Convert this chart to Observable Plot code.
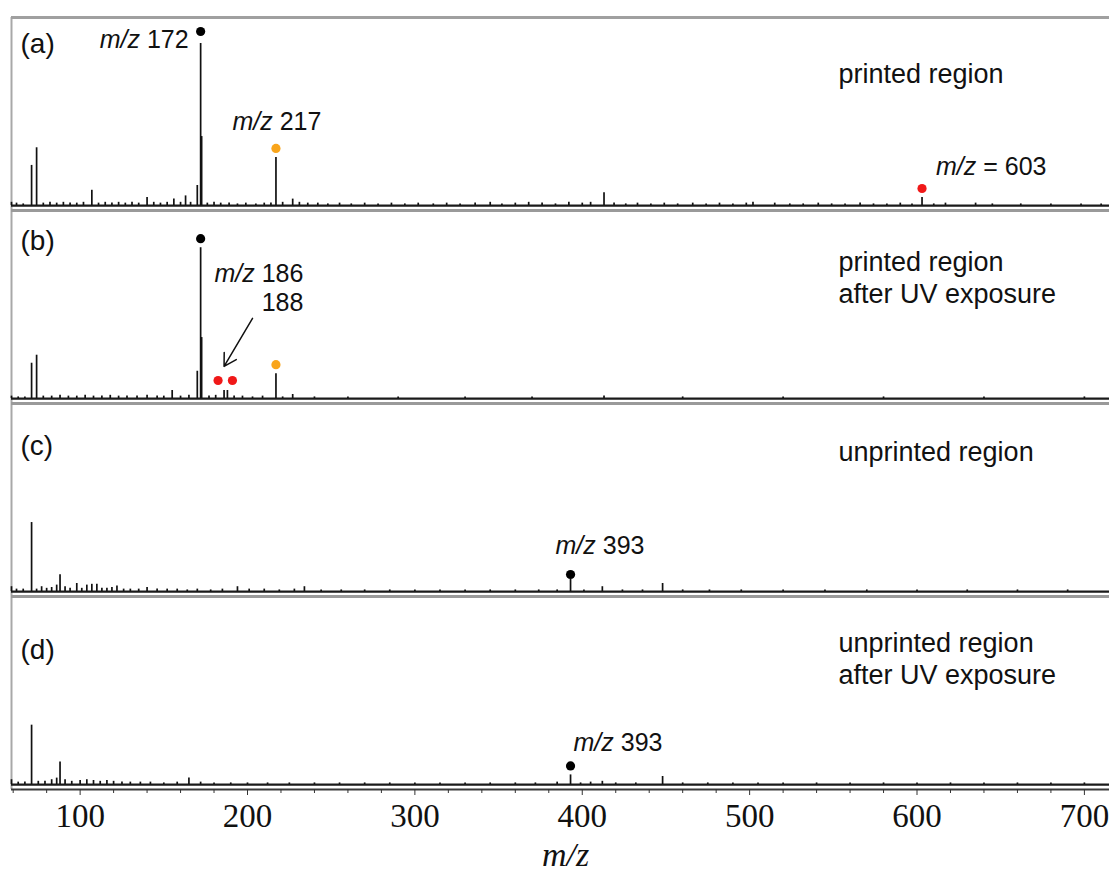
<!DOCTYPE html>
<html><head><meta charset="utf-8">
<script src="https://cdn.jsdelivr.net/npm/d3@7"></script>
<script src="https://cdn.jsdelivr.net/npm/@observablehq/plot@0.6"></script>
<style>
html,body{margin:0;padding:0;background:#fff;}
#chart svg{display:block;background:#fff;}
#chart g[aria-label="x-axis tick label"] text{font-family:"Liberation Serif",serif;font-size:33px;}
</style></head><body><div id="chart"></div>
<script>
// ---- data ----
const panels = ["a", "b", "c", "d"];
const panelLabels = ["(a)", "(b)", "(c)", "(d)"];
const panelDescriptions = ["printed region", "printed region\nafter UV exposure", "unprinted region", "unprinted region\nafter UV exposure"];
const tickValues = [100, 200, 300, 400, 500, 600, 700];
const minorTickValues = [60, 80, 120, 140, 160, 180, 220, 240, 260, 280, 320, 340, 360, 380, 420, 440, 460, 480, 520, 540, 560, 580, 620, 640, 660, 680, 720];
const axisTitle = "m/z";

// [m/z, relative intensity]
const peaksA = [[59,2],[62,1.5],[66,1],[71,25],[74,36],[78,1.5],[82,2],[86,1.5],[90,2],[94,1.5],[98,1.5],[102,2],[107,9.5],[111,1.5],[115,2],[119,1.5],[123,2],[127,1.5],[131,2],[135,1.5],[140,5],[144,2],[148,1.5],[152,2],[156,4],[160,2],[163,6],[166,2],[170,12.5],[172,101],[172.6,43],[176,1.5],[180,2],[184,1.5],[189,1.5],[194,1],[199,1.5],[205,1],[210,1.5],[214,1.5],[217,30],[221,2],[227,4],[231,2],[236,1.5],[242,1.5],[248,1],[255,1.5],[262,1],[270,1.5],[278,1],[286,1.5],[294,1],[302,1.5],[311,1],[319,1.5],[327,1],[336,1.5],[345,2],[352,1],[360,1.5],[368,2],[376,1.5],[384,1],[392,2],[400,1.5],[405,2],[413,8],[419,1.5],[426,1],[433,1.5],[441,1],[449,1.5],[457,1],[466,1.5],[474,1],[482,1.5],[490,1],[498,1.5],[502,2],[515,1.5],[524,1],[532,1],[541,1.5],[549,1],[557,1],[566,1.5],[574,1],[582,1],[590,1.5],[597,1],[603,5],[610,1],[617,1.5],[635,1.5],[645,1],[662,1],[680,1],[698,1],[710,1]];
const peaksB = [[59,1.5],[63,1],[67,1],[71,22],[74,27],[78,1.5],[83,1.5],[88,2],[93,1.5],[98,1.5],[103,2],[108,1.5],[113,1.5],[118,2],[123,1.5],[128,1.5],[134,1.5],[140,2],[146,1.5],[150,1.5],[155,5],[160,1.5],[165,2],[170,17],[172,94],[172.6,38],[177,1.5],[181,2],[186,5],[188,5],[192,1.5],[197,1.5],[203,1],[209,1.5],[217,15.5],[221,1],[227,2.5],[240,1],[260,1],[290,1],[330,1],[370,1],[413,1.5],[460,1],[520,1],[580,1],[640,1],[700,1]];
const peaksC = [[59,3],[62,1.5],[66,1.5],[71,43],[74,1.5],[77,3],[80,2],[83,2.5],[86,4],[88,10.5],[91,3],[94,2],[98,5],[101,2],[104,4],[107,4.5],[110,4.5],[113,2],[116,2],[119,2.5],[122,3.5],[126,1.5],[130,1.5],[135,1.5],[140,2.5],[146,1.5],[152,1.5],[158,1.5],[164,1],[170,1.5],[178,1],[185,1.5],[194,3],[201,1.5],[210,1.5],[219,1],[228,1.5],[234,3],[244,1],[256,1],[270,1],[285,1],[300,1],[315,1],[330,1],[345,1],[360,1],[374,1],[385,1],[393,7.5],[401,1],[412,3],[424,1],[436,1],[448,5],[460,1],[476,1],[495,1],[520,1],[545,1],[570,1],[600,1],[630,1],[660,1],[690,1]];
const peaksD = [[59,3],[63,1.5],[67,1.5],[71,37],[75,2],[79,2],[83,3],[86,4],[88,14],[91,3],[95,2],[100,2.5],[104,3],[108,2.5],[112,2],[116,2.5],[120,2],[125,1.5],[130,1.5],[136,1.5],[142,1.5],[150,1],[158,1.5],[165,4],[172,1.5],[180,1],[190,1],[200,1],[212,1],[225,1],[240,1],[255,1],[270,1],[285,1],[300,1],[315,1],[330,1],[345,1],[360,1],[372,1],[385,1.5],[393,6],[399,1],[405,1.5],[412,2],[420,1],[432,1],[448,5],[460,1],[475,1],[490,1],[505,1],[520,1],[540,1],[560,1],[580,1],[600,1],[620,1],[640,1],[660,1],[680,1],[700,1]];

// highlighted ions
const markerPanels = ["a", "a", "a", "b", "b", "b", "b", "c", "d"];
const markerMz = [172, 217, 603, 172, 186, 188, 217, 393, 393];
const markerColors = ["#000000", "#f9a51b", "#f01818", "#000000", "#f01818", "#f01818", "#f9a51b", "#000000", "#000000"];

// peak annotations
const annotationPanels = ["a", "a", "a", "b", "c", "d"];
const annotationMz = [172, 217, 603, 188, 393, 393];
const annotationTexts = ["m/z 172", "m/z 217", "m/z = 603", "m/z 186\n188", "m/z 393", "m/z 393"];

// arrow in panel (b): from label to m/z 186/188 peaks
const arrowFromMz = [203], arrowFromInt = [50], arrowToMz = [186], arrowToInt = [20];

// ---- build tables ----
const peakSets = [peaksA, peaksB, peaksC, peaksD];
const peaks = [];
panels.forEach((p, i) => peakSets[i].forEach(([mz, v]) => peaks.push({panel: p, mz, v})));
const heightOf = (p, mz) => peaks.find(d => d.panel === p && d.mz === mz).v;
const markers = markerMz.map((mz, i) => ({panel: markerPanels[i], mz, v: heightOf(markerPanels[i], mz), color: markerColors[i]}));
const annotations = annotationMz.map((mz, i) => ({panel: annotationPanels[i], mz, v: heightOf(annotationPanels[i], mz), text: annotationTexts[i]}));
const arrows = arrowFromMz.map((m, i) => ({panel: "b", x1: m, y1: arrowFromInt[i], x2: arrowToMz[i], y2: arrowToInt[i]}));
const panelRows = panels.map((p, i) => ({panel: p, label: panelLabels[i], desc: panelDescriptions[i]}));

const yMin = -3.1, yMax = 117.2;
const sans = "Liberation Sans, Arial, sans-serif";
const serif = "Liberation Serif, Times New Roman, serif";

const onePanel = (p) => panelRows.filter(d => d.panel === p);
const panelLabel = (p, dy) => Plot.text(onePanel(p), {fy: "panel", text: "label", frameAnchor: "top-left", dx: 9, dy, lineAnchor: "middle", textAnchor: "start", fontSize: 28, fontFamily: sans, fill: "#111"});
const panelDesc = (p, dy) => Plot.text(onePanel(p), {fy: "panel", text: "desc", frameAnchor: "top-left", dx: 827, dy, lineAnchor: "middle", textAnchor: "start", fontSize: 27, lineHeight: 1.2, fontFamily: sans, fill: "#111"});
const annot = (i, opts) => Plot.text([annotations[i]], {fy: "panel", x: "mz", y: "v", text: "text", fontSize: 25, fontFamily: sans, fill: "#111", lineAnchor: "middle", ...opts});
const markerDot = (filter, opts) => Plot.dot(markers.filter(filter), {fy: "panel", x: "mz", y: "v", fill: "color", r: 4.6, dy: -9, ...opts});
const isM = (p, mz) => d => d.panel === p && d.mz === mz;

const chart = Plot.plot({
  width: 1109,
  height: 873,
  marginTop: 15,
  marginBottom: 83,
  marginLeft: 11,
  marginRight: 0,
  x: {domain: [59, 715]},
  y: {domain: [yMin, yMax], axis: null},
  fy: {domain: panels, padding: 0, axis: null},
  color: {type: "identity"},
  marks: [
    // frame pieces
    Plot.ruleX([59], {stroke: "#a8a8a8", strokeWidth: 2}),
    Plot.ruleY(panelRows.filter(d => d.panel !== "d"), {fy: "panel", y: yMin, stroke: "#9a9a9a", strokeWidth: 3}),
    Plot.ruleY(onePanel("a"), {fy: "panel", y: yMax, stroke: "#a0a0a0", strokeWidth: 3}),
    Plot.ruleY(onePanel("d"), {fy: "panel", y: yMin, stroke: "#3a3a3a", strokeWidth: 2}),
    // spectra
    Plot.ruleY(panelRows, {fy: "panel", y: 0, stroke: "#1a1a1a", strokeWidth: 2.2}),
    Plot.ruleX(peaks, {fy: "panel", x: "mz", y1: 0, y2: "v", stroke: "#111", strokeWidth: 1.7}),
    // markers
    markerDot(d => !(isM("b", 186)(d) || isM("b", 188)(d) || isM("a", 172)(d) || isM("c", 393)(d)), {}),
    markerDot(isM("a", 172), {dy: -12}),
    markerDot(isM("c", 393), {dy: -5}),
    markerDot(isM("b", 186), {dx: -6, dy: -10}),
    markerDot(isM("b", 188), {dx: 5, dy: -10}),
    // annotations
    annot(0, {textAnchor: "end", dx: -12, dy: -3}),
    annot(1, {textAnchor: "middle", dx: 1, dy: -35}),
    annot(2, {textAnchor: "start", dx: 14, dy: -31}),
    annot(3, {textAnchor: "end", dx: 76, dy: -103, lineHeight: 1.16}),
    annot(4, {textAnchor: "start", dx: -15, dy: -33}),
    annot(5, {textAnchor: "start", dx: 3, dy: -32}),
    Plot.arrow(arrows, {fy: "panel", x1: "x1", y1: "y1", x2: "x2", y2: "y2", stroke: "#111", strokeWidth: 1.5, headLength: 14}),
    // panel labels and descriptions
    panelLabel("a", 27), panelLabel("b", 31), panelLabel("c", 42.5), panelLabel("d", 54),
    panelDesc("a", 55), panelDesc("b", 66), panelDesc("c", 47.5), panelDesc("d", 61),
    // x axis
    Plot.axisX(minorTickValues, {tickSize: 4, tickFormat: () => "", stroke: "#333"}),
    Plot.axisX(tickValues, {tickSize: 6, tickPadding: 8, stroke: "#333", fontSize: 33, fontFamily: serif, fill: "#111"}),
    Plot.text([{panel: "d", t: axisTitle}], {fy: "panel", text: "t", frameAnchor: "bottom", dx: 5, dy: 66, lineAnchor: "middle", fontSize: 34, fontStyle: "italic", fontFamily: serif, fill: "#111"})
  ]
});

// italicise the "m/z" prefix of peak annotations
const NS = "http://www.w3.org/2000/svg";
chart.querySelectorAll("text, tspan").forEach(el => {
  const s = el.textContent;
  if (el.childElementCount === 0 && s.startsWith("m/z") && s.length > 3) {
    el.textContent = "";
    const it = document.createElementNS(NS, "tspan");
    it.setAttribute("font-style", "italic");
    it.textContent = "m/z";
    el.appendChild(it);
    el.appendChild(document.createTextNode(s.slice(3)));
  }
});
document.getElementById("chart").appendChild(chart);
</script></body></html>
